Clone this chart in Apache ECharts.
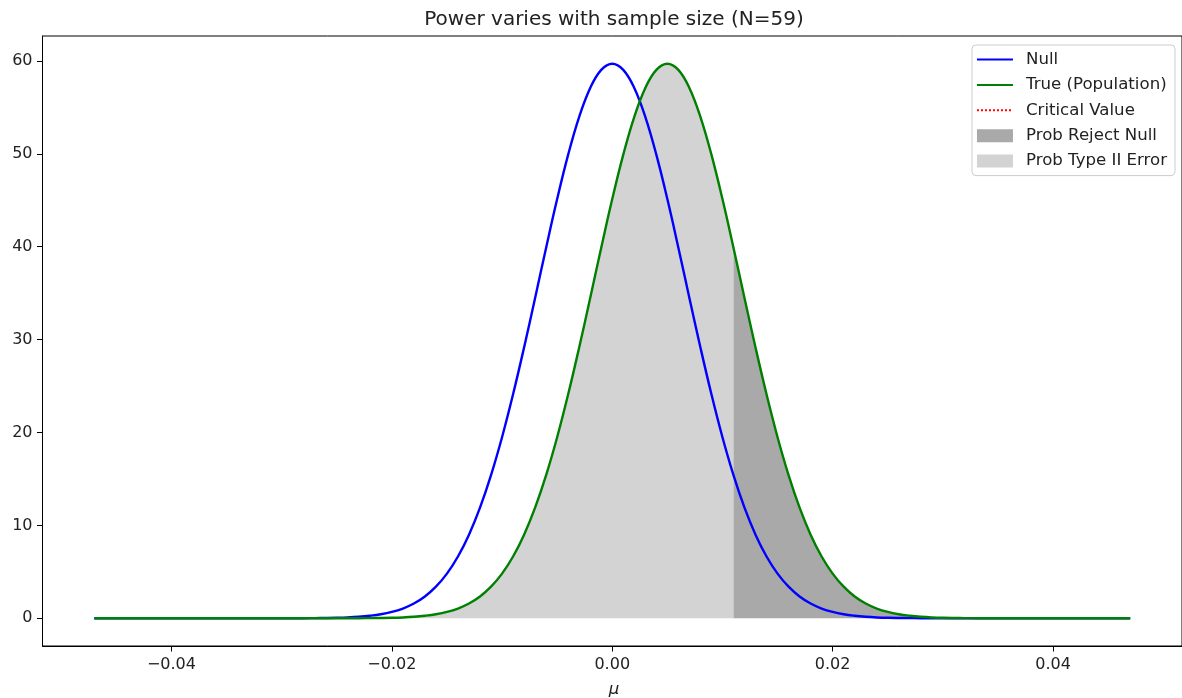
<!DOCTYPE html>
<html><head><meta charset="utf-8">
<script src="https://cdn.jsdelivr.net/npm/echarts@6/dist/echarts.min.js"></script>
<style>html,body{margin:0;padding:0;background:#fff}#c{width:1182px;height:698px}</style>
</head><body><div id="c"></div>
<script>
const titleText = 'Power varies with sample size (N=59)';
const xLabel = 'μ';
const seriesNames = ['Null', 'True (Population)', 'Critical Value', 'Prob Reject Null', 'Prob Type II Error'];
const xTicks = [-0.04, -0.02, 0, 0.02, 0.04];
const yTicks = [0, 10, 20, 30, 40, 50, 60];
const criticalValue = 0.011;

const nullX = [-0.047, -0.040, -0.035,
  -0.030, -0.029, -0.028, -0.027, -0.026, -0.025, -0.024, -0.023, -0.022, -0.021,
  -0.020, -0.019, -0.018, -0.017, -0.016, -0.015, -0.014, -0.013, -0.012, -0.011,
  -0.010, -0.009, -0.008, -0.007, -0.006, -0.005, -0.004, -0.003, -0.002, -0.001,
  0.000, 0.001, 0.002, 0.003, 0.004, 0.005, 0.006, 0.007, 0.008, 0.009,
  0.010, 0.011, 0.012, 0.013, 0.014, 0.015, 0.016, 0.017, 0.018, 0.019,
  0.020, 0.021, 0.022, 0.023, 0.024, 0.025, 0.026, 0.027, 0.028, 0.029, 0.030,
  0.035, 0.040, 0.047];
const nullY = [0, 0, 0,
  0.00, 0.01, 0.01, 0.02, 0.03, 0.05, 0.09, 0.16, 0.27, 0.43,
  0.68, 1.05, 1.59, 2.35, 3.40, 4.81, 6.65, 9.00, 11.91, 15.41,
  19.49, 24.11, 29.16, 34.49, 39.90, 45.13, 49.91, 53.98, 57.09, 59.04,
  59.70, 59.04, 57.09, 53.98, 49.91, 45.13, 39.90, 34.49, 29.16, 24.11,
  19.49, 15.41, 11.91, 9.00, 6.65, 4.81, 3.40, 2.35, 1.59, 1.05,
  0.68, 0.43, 0.27, 0.16, 0.09, 0.05, 0.03, 0.02, 0.01, 0.01, 0.00,
  0, 0, 0];

const trueX = [-0.047, -0.040, -0.030,
  -0.025, -0.024, -0.023, -0.022, -0.021, -0.020, -0.019, -0.018, -0.017, -0.016,
  -0.015, -0.014, -0.013, -0.012, -0.011, -0.010, -0.009, -0.008, -0.007, -0.006,
  -0.005, -0.004, -0.003, -0.002, -0.001, 0.000, 0.001, 0.002, 0.003, 0.004,
  0.005, 0.006, 0.007, 0.008, 0.009, 0.010, 0.011, 0.012, 0.013, 0.014,
  0.015, 0.016, 0.017, 0.018, 0.019, 0.020, 0.021, 0.022, 0.023, 0.024,
  0.025, 0.026, 0.027, 0.028, 0.029, 0.030, 0.031, 0.032, 0.033, 0.034, 0.035,
  0.040, 0.047];
const trueY = [0, 0, 0,
  0.00, 0.01, 0.01, 0.02, 0.03, 0.05, 0.09, 0.16, 0.27, 0.43,
  0.68, 1.05, 1.59, 2.35, 3.40, 4.81, 6.65, 9.00, 11.91, 15.41,
  19.49, 24.11, 29.16, 34.49, 39.90, 45.13, 49.91, 53.98, 57.09, 59.04,
  59.70, 59.04, 57.09, 53.98, 49.91, 45.13, 39.90, 34.49, 29.16, 24.11,
  19.49, 15.41, 11.91, 9.00, 6.65, 4.81, 3.40, 2.35, 1.59, 1.05,
  0.68, 0.43, 0.27, 0.16, 0.09, 0.05, 0.03, 0.02, 0.01, 0.01, 0.00,
  0, 0];

const zip = (xs, ys) => xs.map((x, i) => [x, ys[i]]);
const nullPts = zip(nullX, nullY);
const truePts = zip(trueX, trueY);
const typeIIPts = truePts.filter(p => p[0] <= criticalValue + 1e-12);
const rejectPts = truePts.filter(p => p[0] >= criticalValue - 1e-12);

const FONT = 'DejaVu Sans';
const chart = echarts.init(document.getElementById('c'), null, { renderer: 'canvas' });
const fmtX = v => (v < -1e-9 ? '\u2212' : '') + Math.abs(v).toFixed(2);
const hideSymbol = { opacity: 0 };

chart.setOption({
  animation: false,
  backgroundColor: '#ffffff',
  grid: { left: 42.5, right: -3.5, top: 36, bottom: 52, show: true, borderColor: '#000', borderWidth: 1, backgroundColor: 'transparent' },
  xAxis: {
    type: 'value', min: -0.0517, max: 0.0517,
    axisLine: { onZero: false, lineStyle: { color: '#000', width: 1 } },
    axisTick: { show: true, length: 5.5, customValues: xTicks, lineStyle: { color: '#000' } },
    axisLabel: { customValues: xTicks, formatter: fmtX, margin: 11, color: '#222', fontSize: 16, fontFamily: FONT },
    splitLine: { show: false }
  },
  yAxis: {
    type: 'value', min: -2.985, max: 62.685,
    axisLine: { show: true, onZero: false, lineStyle: { color: '#000', width: 1 } },
    axisTick: { show: true, length: 5.5, customValues: yTicks, lineStyle: { color: '#000' } },
    axisLabel: { customValues: yTicks, margin: 10, color: '#222', fontSize: 16, fontFamily: FONT },
    splitLine: { show: false }
  },
  legend: {
    orient: 'vertical', right: 7, top: 45,
    padding: [6, 8, 6, 4],
    itemWidth: 36, itemHeight: 13, itemGap: 8.4,
    borderColor: '#cccccc', borderWidth: 1, borderRadius: 4,
    backgroundColor: 'rgba(255,255,255,0.8)',
    textStyle: { fontSize: 16.6, fontFamily: FONT, color: '#222', padding: [0, 0, 0, 8] },
    data: [
      { name: seriesNames[0], itemStyle: hideSymbol },
      { name: seriesNames[1], itemStyle: hideSymbol },
      { name: seriesNames[2], itemStyle: hideSymbol },
      { name: seriesNames[3], icon: 'rect' },
      { name: seriesNames[4], icon: 'rect' }
    ]
  },
  graphic: [
    { type: 'text', x: 614, y: 20, style: { text: titleText, fontSize: 20, fontFamily: FONT, fill: '#222', textAlign: 'center', textVerticalAlign: 'middle' } },
    { type: 'text', x: 614, y: 690, style: { text: xLabel, fontSize: 16.6, fontStyle: 'italic', fontFamily: FONT, fill: '#222', textAlign: 'center', textVerticalAlign: 'middle' } }
  ],
  series: [
    { name: seriesNames[4], type: 'line', data: typeIIPts, symbol: 'none', smooth: 0.4, color: '#d3d3d3',
      lineStyle: { width: 0 }, areaStyle: { color: '#d3d3d3', opacity: 1 }, z: 1 },
    { name: seriesNames[3], type: 'line', data: rejectPts, symbol: 'none', smooth: 0.4, color: '#a9a9a9',
      lineStyle: { width: 0 }, areaStyle: { color: '#a9a9a9', opacity: 1 }, z: 1 },
    { name: seriesNames[0], type: 'line', data: nullPts, symbol: 'none', smooth: 0.4, color: '#0000ff',
      lineStyle: { width: 2.4, color: '#0000ff' }, z: 3 },
    { name: seriesNames[1], type: 'line', data: truePts, symbol: 'none', smooth: 0.4, color: '#008000',
      lineStyle: { width: 2.4, color: '#008000' }, z: 3 },
    { name: seriesNames[2], type: 'line', data: [], symbol: 'none', color: '#ff0000',
      lineStyle: { width: 2.4, type: 'dotted', color: '#ff0000' }, z: 3 }
  ]
});
</script></body></html>
